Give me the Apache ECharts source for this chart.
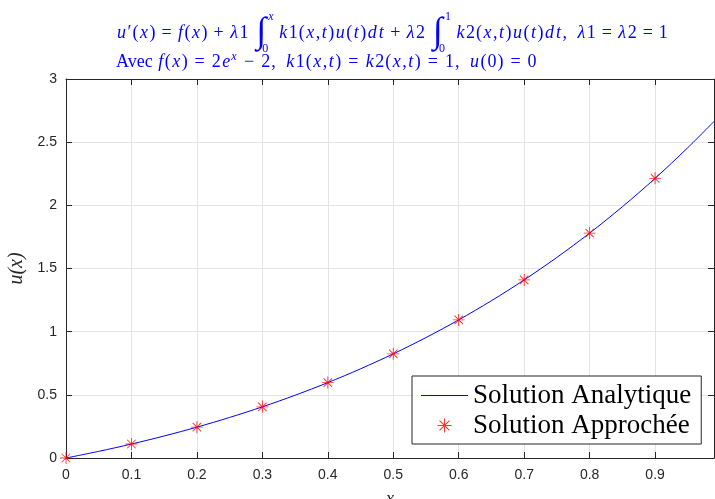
<!DOCTYPE html>
<html>
<head>
<meta charset="utf-8">
<script src="https://cdn.jsdelivr.net/npm/echarts@6/dist/echarts.min.js"></script>
<style>html,body{margin:0;padding:0;background:#fff}#c{width:715px;height:499px}</style>
</head>
<body>
<div id="c"></div>
<script>
// Analytic solution curve
var curveX = [0, 0.05, 0.1, 0.15, 0.2, 0.25, 0.3, 0.35, 0.4, 0.45, 0.5, 0.55, 0.6, 0.65, 0.7, 0.75, 0.8, 0.85, 0.9, 0.95, 0.99];
var curveY = [0, 0.0526, 0.1105, 0.1743, 0.2443, 0.3210, 0.4050, 0.4967, 0.5967, 0.7057, 0.8244, 0.9533, 1.0933, 1.2451, 1.4096, 1.5878, 1.7804, 1.9887, 2.2136, 2.4564, 2.6643];
// Approximated solution points
var approxX = [0, 0.1, 0.2, 0.3, 0.4, 0.5, 0.6, 0.7, 0.8, 0.9];
var approxY = [0, 0.1105, 0.2443, 0.4050, 0.5967, 0.8244, 1.0933, 1.4096, 1.7804, 2.2136];
var xTicks = [0, 0.1, 0.2, 0.3, 0.4, 0.5, 0.6, 0.7, 0.8, 0.9];
var yTicks = [0, 0.5, 1, 1.5, 2, 2.5, 3];
var seriesNames = ['Solution Analytique', 'Solution Approchée'];

var chart = echarts.init(document.getElementById('c'), null, {renderer: 'canvas'});
var axisColor = '#262626';
var gridColor = '#e3e3e3';
var starPath = 'path://M0,9.25L20,9.25L20,10.75L0,10.75Z M9.25,0L10.75,0L10.75,20L9.25,20Z M2.4,3.45L3.45,2.4L17.6,16.55L16.55,17.6Z M16.55,2.4L17.6,3.45L3.45,17.6L2.4,16.55Z';

var serif = '"Liberation Serif", "DejaVu Serif", serif';
var blue = '#0000ff';
function st(o) { return Object.assign({fontFamily: serif, fontWeight: 'normal', color: blue, fontSize: 18}, o); }
var richStyles = {
  it: st({fontStyle: 'italic', padding: [0, 1, 0, 1]}),
  rm: st({padding: [0, 0.5, 0, 0.5]}),
  op: st({padding: [0, 2, 0, 2]}),
  op1: st({padding: [0, 1, 0, 1]}),
  txt: st({}),
  sp: st({}),
  int: st({fontStyle: 'italic', fontSize: 36, lineHeight: 44, padding: [0, 0, 0, 3]}),
  sup: st({fontStyle: 'italic', fontSize: 12, verticalAlign: 'top'}),
  supr: st({fontSize: 12, verticalAlign: 'top'}),
  sub: st({fontSize: 12, verticalAlign: 'bottom', padding: [0, 0, 0, -4]}),
  esup: st({fontStyle: 'italic', fontSize: 12, verticalAlign: 'top', lineHeight: 22, padding: [0, 1, 0, 0]})
};
// convert math text to rich fragments
function m(s, opStyle) {
  var out = '';
  for (var i = 0; i < s.length; i++) {
    var c = s[i];
    var k = /[a-zλ]/.test(c) ? 'it' : (c === ' ' ? 'sp' : (/[=+−]/.test(c) ? (opStyle || 'op') : 'rm'));
    out += '{' + k + '|' + c + '}';
  }
  return out;
}
function integ(lo, hi, hiStyle) { return '{int|∫}{sub|' + lo + '}{' + hiStyle + '|' + hi + '}{sp| }'; }
var line1 = m('u′(x) = f(x) + λ1 ', 'op1') + integ('0', 'x', 'sup') + m('k1(x,t)u(t)dt + λ2 ', 'op1') + integ('0', '1', 'supr') + m('k2(x,t)u(t)dt,  λ1 = λ2 = 1', 'op1');
var line2 = '{txt|Avec }' + m('f(x) = 2e') + '{esup|x}' + m(' − 2,  k1(x,t) = k2(x,t) = 1,  u(0) = 0');

var curveData = curveX.map(function (x, i) { return [x, curveY[i]]; });
var approxData = approxX.map(function (x, i) { return [x, approxY[i]]; });

var baseAxis = {
  axisLine: {show: true, onZero: false, lineStyle: {color: axisColor, width: 1}},
  axisTick: {show: true, inside: true, length: 6, lineStyle: {color: axisColor}},
  splitLine: {show: true, lineStyle: {color: gridColor, width: 1}},
  axisLabel: {color: axisColor, fontFamily: '"Liberation Sans", Arial, sans-serif', fontSize: 14}
};

chart.setOption({
  animation: false,
  backgroundColor: '#ffffff',
  title: [
    {text: line1, left: 116, top: 11, padding: 0, textStyle: {fontWeight: 'normal', rich: richStyles}},
    {text: line2, left: 116, top: 51, padding: 0, textStyle: {fontWeight: 'normal', rich: richStyles}}
  ],
  grid: {left: 66, right: 1, top: 79, bottom: 41, containLabel: false, outerBoundsMode: 'none'},
  xAxis: [
    Object.assign({}, baseAxis, {
      type: 'value', min: 0, max: 0.99, interval: 0.1, position: 'bottom',
      name: 'x', nameLocation: 'middle', nameGap: 32,
      nameTextStyle: {fontFamily: serif, fontStyle: 'italic', fontSize: 18, color: axisColor, verticalAlign: 'top'},
      axisLabel: Object.assign({}, baseAxis.axisLabel, {margin: 10, showMaxLabel: false,
        formatter: function (v) { return xTicks.indexOf(Math.round(v * 10) / 10) >= 0 ? String(Math.round(v * 10) / 10) : ''; }})
    }),
    Object.assign({}, baseAxis, {
      type: 'value', min: 0, max: 0.99, interval: 0.1, position: 'top',
      axisLabel: {show: false}, splitLine: {show: false}
    })
  ],
  yAxis: [
    Object.assign({}, baseAxis, {
      type: 'value', min: 0, max: 3, interval: 0.5, position: 'left',
      name: 'u(x)', nameLocation: 'middle', nameGap: 36, nameRotate: 90,
      nameTextStyle: {fontFamily: serif, fontStyle: 'italic', fontSize: 20, color: axisColor},
      axisLabel: Object.assign({}, baseAxis.axisLabel, {margin: 9,
        formatter: function (v) { return yTicks.indexOf(v) >= 0 ? String(v) : ''; }})
    }),
    Object.assign({}, baseAxis, {
      type: 'value', min: 0, max: 3, interval: 0.5, position: 'right',
      axisLabel: {show: false}, splitLine: {show: false}
    })
  ],
  legend: {
    orient: 'vertical', left: 412, top: 376,
    padding: [6, 10, 5, 9], itemGap: 3, itemWidth: 47, itemHeight: 14,
    backgroundColor: '#ffffff', borderColor: axisColor, borderWidth: 1,
    textStyle: {fontFamily: serif, fontSize: 27, color: '#000000', lineHeight: 27},
    data: [
      {name: seriesNames[0], icon: 'path://M0,0L47,0L47,1.2L0,1.2Z', itemStyle: {color: '#0000ff'}},
      {name: seriesNames[1]}
    ]
  },
  series: [
    {name: seriesNames[0], type: 'line', data: curveData, smooth: 0.3, symbol: 'none',
     lineStyle: {color: '#0000ff', width: 1}, itemStyle: {color: '#0000ff'}, z: 2},
    {name: seriesNames[1], type: 'scatter', data: approxData, symbol: starPath, symbolSize: 12,
     symbolKeepAspect: true, itemStyle: {color: '#ff0000'}, z: 3}
  ]
});
</script>
</body>
</html>
